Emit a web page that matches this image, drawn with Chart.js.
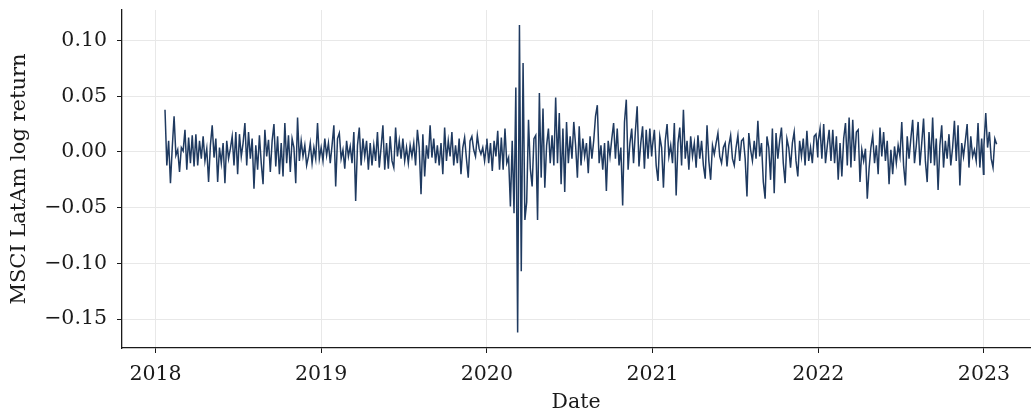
<!DOCTYPE html>
<html>
<head>
<meta charset="utf-8">
<script src="https://cdn.jsdelivr.net/npm/chart.js@4.4.1/dist/chart.umd.min.js"></script>
<style>
  html, body { margin: 0; padding: 0; background: #fff; }
  #wrap { width: 1031px; height: 416px; }
</style>
</head>
<body>
<div id="wrap"><canvas id="c" width="1031" height="416"></canvas></div>
<script>
// ── Data — MSCI LatAm daily log return, sampled every 4 calendar days ────────

const sampleStepDays = 4;
const seriesYears    = [2018, 2019, 2020, 2021, 2022, 2023];
const seriesStartDay = [21, 0, 0, 0, 0, 0];   // day of year of first sample

const returns2018 = [
  0.038, -0.012, 0.010, -0.028, 0.004, 0.032, -0.003, 0.002, -0.018, 0.004,
  0.001, 0.020, -0.016, 0.013, -0.010, 0.015, -0.013, 0.016, -0.012, 0.010,
  -0.006, 0.014, -0.008, 0.003, -0.027, 0.006, 0.024, -0.005, 0.012, -0.027,
  0.004, -0.010, 0.008, -0.028, 0.010, -0.006, 0.003, 0.014, -0.012, 0.018,
  -0.020, 0.016, -0.004, 0.008, 0.026, -0.012, 0.018, -0.006, 0.012, -0.033,
  0.006, -0.016, 0.015, -0.010, -0.029, 0.020, -0.004, 0.011, -0.018, 0.010,
  0.025, -0.013, 0.014, -0.020, 0.008, -0.022, 0.026, -0.010, 0.015, -0.018,
  0.012, 0.004, -0.028, 0.031, -0.008, 0.010, -0.004, 0.006, -0.012, -0.004,
  0.008, -0.010, 0.004, -0.006, 0.026, -0.006,
];

const returns2019 = [
  0.004, -0.008, 0.012, -0.003, 0.008, -0.010, 0.006, 0.024, -0.031, 0.012,
  0.017, -0.006, 0.002, -0.015, 0.010, -0.004, 0.005, -0.010, 0.018, -0.044,
  0.006, 0.022, -0.012, 0.012, -0.004, 0.010, -0.016, 0.008, -0.012, 0.006,
  -0.008, 0.018, -0.014, 0.004, 0.024, -0.016, 0.008, -0.015, 0.014, -0.008,
  -0.014, 0.022, -0.004, 0.010, -0.006, 0.012, -0.008, 0.004, -0.010, 0.006,
  -0.004, 0.008, -0.012, 0.020, 0.004, -0.038, 0.016, -0.022, 0.006, -0.006,
  0.024, -0.005, 0.012, -0.010, 0.006, -0.012, 0.008, -0.020, 0.022, -0.008,
  0.010, -0.004, 0.018, -0.012, 0.006, -0.010, 0.012, -0.020, 0.004, 0.013,
  -0.006, -0.023, 0.010, 0.014, 0.002, -0.004, 0.015, 0.003, -0.002, 0.004,
  -0.008, 0.006,
];

const returns2020 = [
  0.012, -0.010, 0.008, -0.017, 0.010, -0.004, 0.019, -0.016, 0.013, -0.016,
  0.021, -0.010, -0.005, -0.049, 0.010, -0.055, 0.058, -0.162, 0.114, -0.107,
  0.080, -0.061, -0.045, 0.029, -0.015, -0.031, 0.012, 0.015, -0.061, 0.053,
  -0.023, 0.039, -0.032, 0.006, 0.021, -0.010, 0.015, -0.012, 0.049, -0.010,
  0.035, -0.029, 0.021, -0.036, 0.027, -0.010, 0.014, -0.006, 0.027, 0.006,
  -0.023, 0.023, -0.012, 0.012, -0.004, 0.008, -0.019, 0.014, -0.006, 0.010,
  0.032, 0.042, -0.010, 0.006, -0.016, 0.008, -0.035, 0.010, -0.004, 0.012,
  0.026, -0.006, 0.021, -0.012, 0.004, -0.048, 0.027, 0.047, -0.016, 0.008,
  0.021, -0.010, 0.018, 0.041, -0.013, 0.008, 0.023, -0.015, 0.020, -0.006,
  0.021, -0.004,
];

const returns2021 = [
  0.006, 0.020, -0.012, -0.026, 0.014, 0.004, -0.032, 0.010, 0.025, -0.004,
  0.006, -0.010, 0.026, -0.039, 0.008, 0.022, -0.012, 0.038, -0.006, 0.010,
  -0.016, 0.014, -0.004, 0.008, -0.014, 0.015, -0.006, 0.010, -0.012, -0.024,
  0.024, -0.008, -0.025, 0.006, -0.002, 0.008, 0.017, -0.004, -0.010, 0.004,
  0.008, -0.013, 0.006, 0.015, -0.006, -0.012, 0.004, 0.015, -0.008, 0.010,
  0.012, -0.006, -0.040, 0.017, 0.002, -0.008, 0.010, -0.006, 0.028, -0.004,
  0.008, -0.027, -0.042, 0.014, 0.004, -0.025, 0.021, -0.037, 0.017, -0.006,
  0.010, 0.022, -0.010, -0.028, 0.012, 0.004, -0.014, 0.008, 0.018, -0.008,
  -0.022, 0.010, -0.004, 0.012, -0.012, 0.019, -0.008, 0.004, -0.010, 0.014,
  0.016, -0.005,
];

const returns2022 = [
  0.010, 0.021, -0.006, 0.025, -0.010, 0.006, 0.020, -0.008, 0.020, -0.010,
  0.014, -0.025, 0.008, -0.022, 0.012, 0.026, -0.012, 0.031, -0.014, 0.029,
  -0.008, 0.018, 0.020, -0.027, 0.002, -0.008, 0.003, -0.042, -0.015, 0.004,
  0.015, -0.010, 0.006, -0.020, 0.022, -0.004, 0.018, -0.008, 0.010, -0.029,
  0.002, -0.020, 0.005, -0.010, 0.006, -0.004, 0.027, -0.012, -0.030, 0.014,
  -0.006, 0.012, 0.029, -0.010, 0.006, 0.027, -0.012, 0.008, 0.030, -0.008,
  -0.027, 0.018, -0.010, 0.031, -0.012, 0.012, -0.034, 0.006, 0.024, -0.014,
  0.010, -0.006, 0.016, -0.012, 0.004, 0.028, -0.008, 0.024, -0.030, 0.008,
  -0.004, 0.010, 0.025, -0.014, 0.014, -0.004, 0.002, -0.008, 0.026, -0.014,
  0.012, -0.020,
];

const returns2023 = [
  0.006, 0.035, 0.004, 0.018, -0.006, -0.014, 0.012, 0.007,
];

const yearlyReturns = [returns2018, returns2019, returns2020, returns2021, returns2022, returns2023];

const xTickYears  = [2018, 2019, 2020, 2021, 2022, 2023];
const yTickValues = [-0.15, -0.10, -0.05, 0.00, 0.05, 0.10];

// ── Build points (x = fractional year) ────────────────────────────────────────
function daysInYear(y) {
  return (y % 4 === 0 && (y % 100 !== 0 || y % 400 === 0)) ? 366 : 365;
}

const points = [];
yearlyReturns.forEach((vals, k) => {
  const yr = seriesYears[k];
  vals.forEach((v, i) => {
    points.push({ x: yr + (seriesStartDay[k] + i * sampleStepDays) / daysInYear(yr), y: v });
  });
});

// ── Chart ─────────────────────────────────────────────────────────────────────
const FONT = "'DejaVu Serif', serif";
const GRID = '#e8e8e8';
const INK  = '#1a1a1a';

const whiteBg = {
  id: 'whiteBg',
  beforeDraw(chart) {
    const ctx = chart.ctx;
    ctx.save();
    ctx.fillStyle = '#fff';
    ctx.fillRect(0, 0, chart.width, chart.height);
    ctx.restore();
  }
};

function noEdgePadding(axis) {
  axis.paddingTop = 0; axis.paddingBottom = 0;
  axis.paddingLeft = 0; axis.paddingRight = 0;
}

new Chart(document.getElementById('c').getContext('2d'), {
  type: 'line',
  data: {
    datasets: [{
      data: points,
      borderColor: '#1f3a60',
      borderWidth: 1.5,
      pointRadius: 0,
      tension: 0,
      fill: false,
    }]
  },
  options: {
    responsive: false,
    animation: false,
    devicePixelRatio: 1,
    layout: { padding: { left: 0, right: 1, top: 10, bottom: 0 } },
    plugins: { legend: { display: false }, tooltip: { enabled: false } },
    scales: {
      x: {
        type: 'linear',
        min: 2017.798,
        max: 2023.278,
        afterBuildTicks: axis => { axis.ticks = xTickYears.map(v => ({ value: v })); },
        afterFit: axis => { axis.height = 68; noEdgePadding(axis); },
        grid: { color: GRID, lineWidth: 1, tickColor: INK, tickLength: 5, tickWidth: 1 },
        border: { display: true, color: INK, width: 1.3 },
        ticks: {
          color: INK, padding: 9, maxRotation: 0,
          font: { family: FONT, size: 20.5 },
          callback: v => String(v),
        },
        title: {
          display: true, text: 'Date', color: INK,
          font: { family: FONT, size: 20.5 },
          padding: { top: 0, bottom: 1 },
        },
      },
      y: {
        min: -0.176,
        max: 0.1275,
        afterBuildTicks: axis => { axis.ticks = yTickValues.map(v => ({ value: v })); },
        afterFit: axis => { axis.width = 122; noEdgePadding(axis); },
        grid: { color: GRID, lineWidth: 1, tickColor: INK, tickLength: 5, tickWidth: 1 },
        border: { display: true, color: INK, width: 1.3 },
        ticks: {
          color: INK, padding: 10,
          font: { family: FONT, size: 20.5 },
          callback: v => v.toFixed(2).replace('-', '\u2212'),
        },
        title: {
          display: true, text: 'MSCI LatAm log return', color: INK,
          font: { family: FONT, size: 21 },
          padding: { top: 7, bottom: 0 },
        },
      },
    },
  },
  plugins: [whiteBg],
});
</script>
</body>
</html>
